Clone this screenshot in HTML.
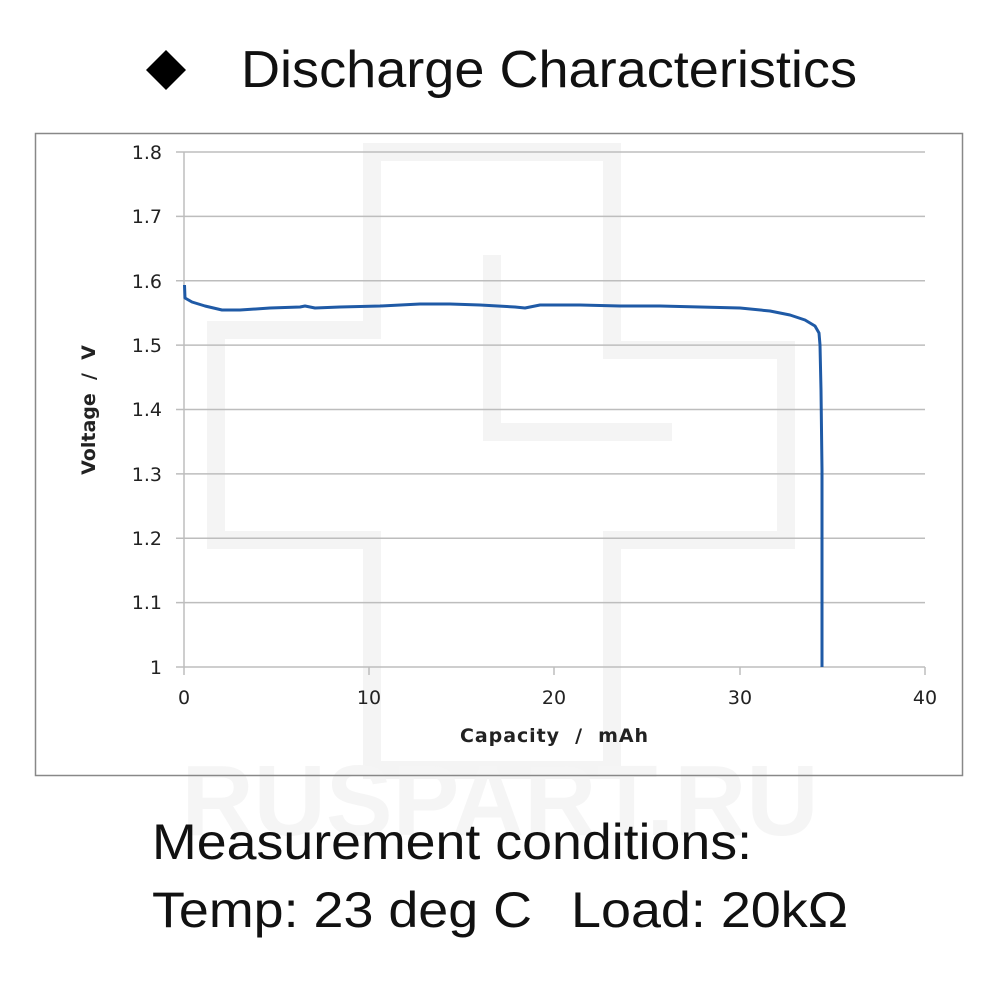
<!DOCTYPE html>
<html><head><style>
body{margin:0;background:#fff;width:1000px;height:1000px;overflow:hidden;font-family:"Liberation Sans",Arial,sans-serif}
</style></head><body>
<svg width="1000" height="1000" xmlns="http://www.w3.org/2000/svg" style="position:absolute;left:0;top:0">
<g fill="none" stroke="#f4f4f4" stroke-width="18">
<path d="M372 152 H612 V350 H786 V540 H612 V770 H372 V540 H216 V330 H372 Z"/>
<path d="M492 255 V432 H672"/>
</g>
<text x="500" y="835" font-size="100" font-weight="bold" fill="#f5f5f5" text-anchor="middle">RUSPART.RU</text>
<rect x="35.5" y="133.5" width="927" height="642" fill="none" stroke="#888" stroke-width="1.5"/>
<polygon points="166,50 186,70 166,90 146,70" fill="#000"/>
<text x="241" y="87" font-size="52" fill="#111" textLength="616" lengthAdjust="spacingAndGlyphs">Discharge Characteristics</text>
<g stroke="#bdbdbd" stroke-width="1.5">
<line x1="176" y1="152" x2="925" y2="152"/>
<line x1="176" y1="216.4" x2="925" y2="216.4"/>
<line x1="176" y1="280.8" x2="925" y2="280.8"/>
<line x1="176" y1="345.1" x2="925" y2="345.1"/>
<line x1="176" y1="409.5" x2="925" y2="409.5"/>
<line x1="176" y1="473.9" x2="925" y2="473.9"/>
<line x1="176" y1="538.3" x2="925" y2="538.3"/>
<line x1="176" y1="602.6" x2="925" y2="602.6"/>
<line x1="176" y1="667" x2="925" y2="667"/>
<line x1="184" y1="152" x2="184" y2="675"/>
<line x1="369" y1="667" x2="369" y2="675"/>
<line x1="554" y1="667" x2="554" y2="675"/>
<line x1="740" y1="667" x2="740" y2="675"/>
<line x1="925" y1="667" x2="925" y2="675"/>
</g>
<g font-size="19" fill="#222" text-anchor="end" font-family="DejaVu Sans,sans-serif">
<text x="162" y="159">1.8</text><text x="162" y="223">1.7</text><text x="162" y="288">1.6</text>
<text x="162" y="352">1.5</text><text x="162" y="416">1.4</text><text x="162" y="481">1.3</text>
<text x="162" y="545">1.2</text><text x="162" y="609">1.1</text><text x="162" y="674">1</text>
</g>
<g font-size="19" fill="#222" text-anchor="middle" font-family="DejaVu Sans,sans-serif">
<text x="184" y="704">0</text><text x="369" y="704">10</text><text x="554" y="704">20</text><text x="740" y="704">30</text><text x="925" y="704">40</text>
</g>
<text x="460" y="742" font-size="19" font-weight="bold" fill="#222" textLength="188" font-family="DejaVu Sans,sans-serif" xml:space="preserve">Capacity  /  mAh</text>
<text transform="translate(95,410) rotate(-90)" font-size="19" font-weight="bold" fill="#222" text-anchor="middle" font-family="DejaVu Sans,sans-serif" xml:space="preserve">Voltage  /  V</text>
<path d="M184.5 285 L185 298 L192 302 L205 306 L222 310 L240 310 L270 308 L300 307 L305 306 L315 308 L340 307 L380 306 L420 304 L450 304 L480 305 L515 307 L525 308 L540 305 L580 305 L620 306 L660 306 L700 307 L740 308 L770 311 L790 315 L805 320 L815 326 L819 333 L820 345 L821 390 L822 470 L822 667" fill="none" stroke="#1f5aa6" stroke-width="3" stroke-linejoin="round"/>
<text x="152" y="859" font-size="50" fill="#111" textLength="600" lengthAdjust="spacingAndGlyphs">Measurement conditions:</text>
<text x="152" y="927" font-size="50" fill="#111" textLength="380" lengthAdjust="spacingAndGlyphs">Temp: 23 deg C</text>
<text x="571" y="927" font-size="50" fill="#111" textLength="277" lengthAdjust="spacingAndGlyphs">Load: 20kΩ</text>
</svg>
</body></html>
